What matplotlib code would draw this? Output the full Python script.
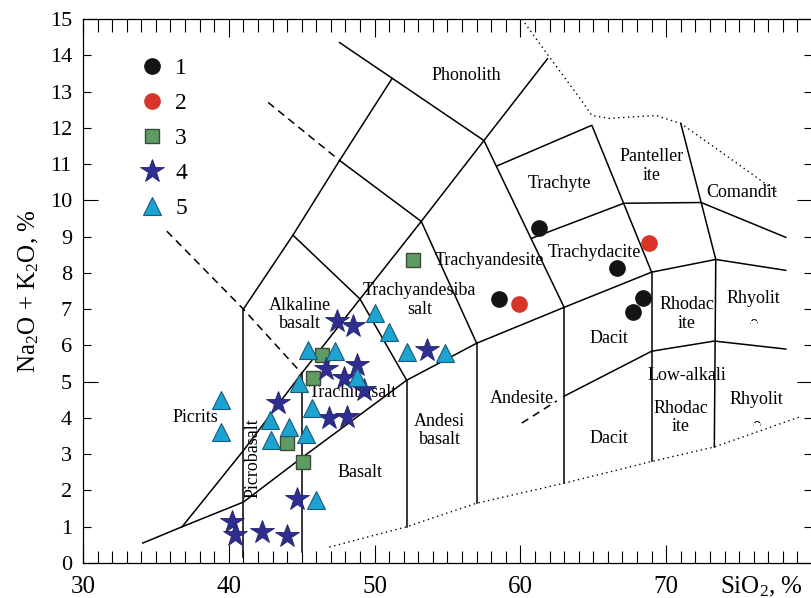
import matplotlib
matplotlib.use('Agg')
import matplotlib.pyplot as plt
from matplotlib.patches import Rectangle
from matplotlib.ticker import MultipleLocator, FormatStrFormatter

plt.rcParams['font.family'] = ['Liberation Serif', 'DejaVu Serif']
plt.rcParams['mathtext.fontset'] = 'custom'
plt.rcParams['mathtext.rm'] = 'Liberation Serif'
plt.rcParams['mathtext.it'] = 'Liberation Serif:italic'

# --- muestras: SiO2 (%) y Na2O+K2O (%) ---
sio2_1 = [61.3, 58.5, 66.6, 68.4, 67.7]
alk_1 = [9.23, 7.27, 8.13, 7.30, 6.91]

sio2_2 = [59.9, 68.8]
alk_2 = [7.13, 8.82]

sio2_3 = [52.6, 46.4, 45.8, 44.0, 45.1]
alk_3 = [8.35, 5.73, 5.10, 3.31, 2.78]

sio2_4 = [40.2, 40.4, 42.3, 44.0, 44.7, 43.4, 46.9, 48.1, 46.7, 47.9, 48.8, 49.3, 47.4, 48.5, 53.6]
alk_4 = [1.13, 0.77, 0.85, 0.74, 1.76, 4.41, 3.99, 4.03, 5.34, 5.10, 5.45, 4.77, 6.67, 6.53, 5.87]

sio2_5 = [39.5, 39.5, 42.8, 44.1, 42.9, 45.3, 45.7, 44.8, 45.4, 47.3, 48.8, 46.0, 50.0, 51.0, 52.2, 54.8]
alk_5 = [4.49, 3.61, 3.94, 3.75, 3.39, 3.55, 4.27, 4.96, 5.87, 5.84, 5.12, 1.74, 6.89, 6.36, 5.81, 5.78]

# --- limites de los campos del diagrama TAS (SiO2, Na2O+K2O) ---
line_a = [(36.8, 1.0), (41, 3.1), (45, 5.23), (49, 7.28), (53.2, 9.42), (57.5, 11.65), (61.85, 13.9)]
line_b = [(34.1, 0.55), (36.8, 1.0), (41, 1.68), (45, 2.9), (52.2, 5.04), (57, 6.06),
          (63, 7.05), (69, 8.02), (73.4, 8.37), (78.2, 8.07)]
line_c = [(41, 7.0), (44.4, 9.04), (47.6, 11.1), (51.2, 13.36)]
line_d2 = [(47.6, 11.1), (53.2, 9.42), (57, 6.06)]
line_d3 = [(44.4, 9.04), (49, 7.28), (52.2, 5.04)]
line_d4 = [(47.6, 14.35), (57.5, 11.65), (63, 7.05)]
line_d5 = [(58.4, 10.95), (64.9, 12.07), (69, 8.02)]
line_e = [(60.75, 8.95), (67.1, 9.92), (72.4, 9.94), (78.2, 8.98)]
line_f = [(71.0, 12.12), (72.4, 9.94), (73.4, 8.37), (73.3, 3.2)]
low_alkali = [(63.0, 4.6), (69, 5.84), (73.3, 6.12), (78.2, 5.9)]
v_41 = [(41, 0.17), (41, 7.0)]
v_45 = [(45, 0.3), (45, 5.23)]
v_52 = [(52.2, 1.0), (52.2, 5.04)]
v_57 = [(57, 1.65), (57, 6.06)]
v_63 = [(63, 2.2), (63, 7.05)]
v_69 = [(69, 2.8), (69, 8.02)]

dash_1 = [(35.75, 9.15), (41, 7.0), (45, 5.23)]
dash_2 = [(42.7, 12.7), (47.6, 11.1)]
dash_3 = [(60.1, 3.86), (62.5, 4.47)]

dot_low = [(46.9, 0.44), (52.2, 1.0), (57, 1.65), (63, 2.2), (69, 2.8), (73.3, 3.2), (79.3, 4.05)]
dot_high = [(60.1, 15.0), (61.9, 14.0), (64.2, 12.75), (64.9, 12.34), (66.1, 12.26),
            (69.3, 12.34), (71.0, 12.12), (74.3, 11.18), (77.7, 10.2)]

# nombres de los campos
field_names = ['Phonolith', 'Trachyte', 'Panteller\nite', 'Comandit', 'Trachydacite',
               'Trachyandesite', 'Trachyandesiba\nsalt', 'Alkaline\nbasalt', 'Trachibasalt',
               'Picrits', 'Basalt', 'Andesi\nbasalt', 'Andesite', 'Dacit', 'Dacit',
               'Rhodac\nite', 'Rhyolit', 'Low-alkali', 'Rhodac\nite', 'Rhyolit']
field_x = [56.3, 62.7, 69.0, 75.2, 65.1, 57.9, 53.1, 44.9, 48.5, 37.7, 49.0, 54.45, 60.1,
           66.1, 66.1, 71.4, 76.0, 71.4, 71.0, 76.2]
field_y = [13.44, 10.47, 10.95, 10.22, 8.57, 8.35, 7.25, 6.86, 4.71, 4.02, 2.5, 3.66, 4.55,
           6.2, 3.44, 6.87, 7.3, 5.18, 4.02, 4.5]

fig = plt.figure(figsize=(8.12, 5.98), dpi=100)
ax = fig.add_axes([0.1022, 0.0585, 0.8978, 0.9097])

def draw(pts, ls='-', lw=1.1):
    xs = [p[0] for p in pts]
    ys = [p[1] for p in pts]
    ax.plot(xs, ys, color='black', linestyle=ls, linewidth=lw, zorder=2)

for pts in [line_a, line_b, line_c, line_d2, line_d3, line_d4, line_d5, line_e, line_f,
            low_alkali, v_41, v_45, v_52, v_57, v_63, v_69]:
    draw(pts)
for pts in [dash_1, dash_2, dash_3]:
    draw(pts, ls=(0, (5, 3.5)))
for pts in [dot_low, dot_high]:
    draw(pts, ls=(0, (1, 2.5)), lw=1.0)

# etiquetas de los campos
for name, x, y in zip(field_names, field_x, field_y):
    ax.text(x, y, name, fontsize=13, ha='center', va='center', linespacing=1.1, zorder=4)
ax.text(41.65, 2.9, 'Picrobasalt', fontsize=13, rotation=90, ha='center', va='center', zorder=4)

# la "e" cortada de Rhyolite: se tapa la parte inferior con blanco
for x, y, ycut in [(76.0, 6.6, 6.68), (76.2, 3.78, 3.86)]:
    ax.text(x, y, 'e', fontsize=13, ha='center', va='center', zorder=4)
    ax.add_patch(Rectangle((x - 0.2, ycut - 0.2), 0.4, 0.2, facecolor='white',
                           edgecolor='none', zorder=4.5))

# puntos
ax.plot(sio2_1, alk_1, 'o', ms=11, color='#141414', mec='#141414', ls='none', label='1', zorder=5)
ax.plot(sio2_2, alk_2, 'o', ms=11, color='#d8352a', mec='#d8352a', ls='none', label='2', zorder=5)
ax.plot(sio2_3, alk_3, 's', ms=9.5, color='#5f9c64', mec='#3c4a3c', mew=1.0, ls='none', label='3', zorder=5)
ax.plot(sio2_4, alk_4, '*', ms=17.5, color='#2e2d90', mec='#22226a', mew=0.6, ls='none', label='4', zorder=5)
ax.plot(sio2_5, alk_5, '^', ms=13.5, color='#1ca3d2', mec='#1d5a78', mew=0.8, ls='none', label='5', zorder=6)

ax.legend(loc='upper left', bbox_to_anchor=(0.078, 0.929), frameon=False, fontsize=17,
          numpoints=1, handlelength=1.0, handletextpad=0.5, borderpad=0, borderaxespad=0,
          labelspacing=0.57)

ax.set_xlim(30, 80)
ax.set_ylim(0, 15)

ax.set_xticks([30, 40, 50, 60, 70, 80])
ax.set_xticklabels(['30', '40', '50', '60', '70', ''])
ax.xaxis.set_minor_locator(MultipleLocator(1))
ax.yaxis.set_major_locator(MultipleLocator(5))
ax.yaxis.set_minor_locator(MultipleLocator(1))
ax.yaxis.set_major_formatter(FormatStrFormatter('%d'))
ax.yaxis.set_minor_formatter(FormatStrFormatter('%d'))

ax.tick_params(axis='x', which='major', direction='in', top=True, length=13, width=0.8, labelsize=18, pad=9)
ax.tick_params(axis='x', which='minor', direction='in', top=True, length=9, width=0.8)
ax.tick_params(axis='y', which='major', direction='in', right=True, length=11, width=0.8, labelsize=16, pad=8)
ax.tick_params(axis='y', which='minor', direction='in', right=True, length=6, width=0.8, labelsize=16, pad=8)
ax.spines['right'].set_visible(False)
for s in ['left', 'bottom', 'top']:
    ax.spines[s].set_linewidth(0.9)

ax.set_xlabel('SiO$_2$, %', fontsize=18)
ax.xaxis.set_label_coords(0.931, -0.022)
ax.set_ylabel('Na$_2$O + K$_2$O, %', fontsize=18)
ax.yaxis.set_label_coords(-0.058, 0.5)

plt.savefig('out.png', dpi=100)
